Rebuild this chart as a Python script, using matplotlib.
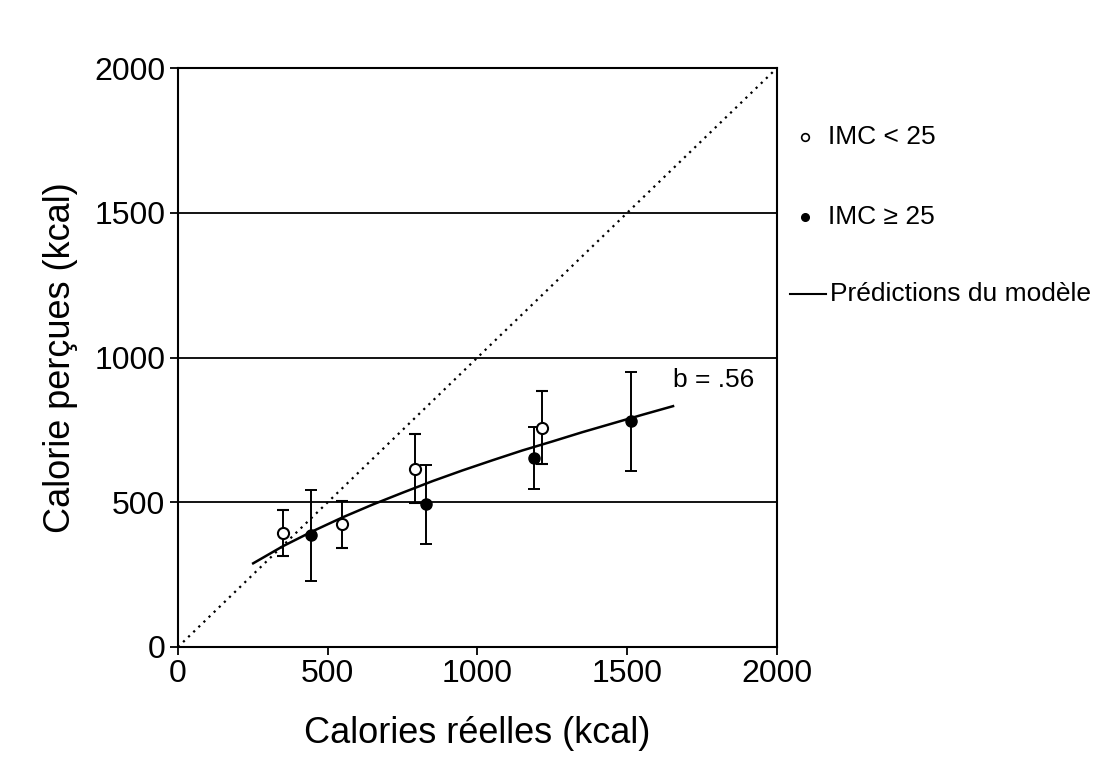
import matplotlib.pyplot as plt
from matplotlib.lines import Line2D

plt.rcParams['font.family'] = ['Liberation Sans', 'DejaVu Sans']

# ---- Data ----
low_x = [351, 548, 793, 1214]          # IMC < 25
low_y = [395, 424, 616, 758]
low_err = [79, 82, 120, 126]

high_x = [443, 827, 1188, 1514]        # IMC >= 25
high_y = [386, 493, 653, 779]
high_err = [157, 136, 108, 171]

model_x = [251, 350, 450, 550, 650, 750, 850, 950, 1050, 1150,
           1250, 1350, 1450, 1550, 1653]
model_y = [289, 348, 400, 448, 492, 533, 573, 610, 645, 679,
           710, 742, 772, 802, 832]

diag_x = [0, 2000]
diag_y = [0, 2000]

legend_labels = ['IMC < 25', 'IMC ≥ 25', 'Prédictions du modèle']

fig = plt.figure(figsize=(11.09, 7.74), dpi=100)
ax = fig.add_axes([0.1605, 0.1641, 0.5401, 0.748])

ax.plot(diag_x, diag_y, color='black', linestyle=(0, (1, 2.2)), linewidth=1.6, zorder=1)
for yv in [500, 1000, 1500]:
    ax.axhline(yv, color='black', linewidth=1.3, zorder=1)

ax.plot(model_x, model_y, color='black', linewidth=1.8, zorder=2)

ax.errorbar(high_x, high_y, yerr=high_err, fmt='o', color='black', mfc='black',
            mec='black', ms=8, capsize=4, elinewidth=1.4, capthick=1.4, zorder=3)
ax.errorbar(low_x, low_y, yerr=low_err, fmt='o', color='black', mfc='white',
            mec='black', ms=8, mew=1.5, capsize=4, elinewidth=1.4, capthick=1.4, zorder=4)

ax.text(1653, 921, 'b = .56', fontsize=19, ha='left', va='center')

ax.set_xlim(0, 2000)
ax.set_ylim(0, 2000)
ax.set_xticks([0, 500, 1000, 1500, 2000])
ax.set_yticks([0, 500, 1000, 1500, 2000])
ax.tick_params(direction='out', length=6, width=1.3, labelsize=23, pad=3)
for s in ax.spines.values():
    s.set_linewidth(1.5)

ax.set_xlabel('Calories réelles (kcal)', fontsize=26, labelpad=19)
ax.set_ylabel('Calorie perçues (kcal)', fontsize=26, labelpad=12)

# Legend drawn by hand, outside the axes on the right
fig.add_artist(Line2D([805 / 1109], [1 - 137 / 774], transform=fig.transFigure,
                      marker='o', mfc='white', mec='black', ms=5.5, mew=1.2))
fig.add_artist(Line2D([805 / 1109], [1 - 217 / 774], transform=fig.transFigure,
                      marker='o', mfc='black', mec='black', ms=5.5))
fig.add_artist(Line2D([790 / 1109, 826 / 1109], [1 - 294 / 774] * 2,
                      transform=fig.transFigure, color='black', linewidth=1.5))
fig.text(828 / 1109, 1 - 137 / 774, legend_labels[0], fontsize=19, va='center')
fig.text(828 / 1109, 1 - 217 / 774, legend_labels[1], fontsize=19, va='center')
fig.text(830 / 1109, 1 - 294 / 774, legend_labels[2], fontsize=19, va='center')

fig.savefig('out.png', dpi=100, facecolor='white')
